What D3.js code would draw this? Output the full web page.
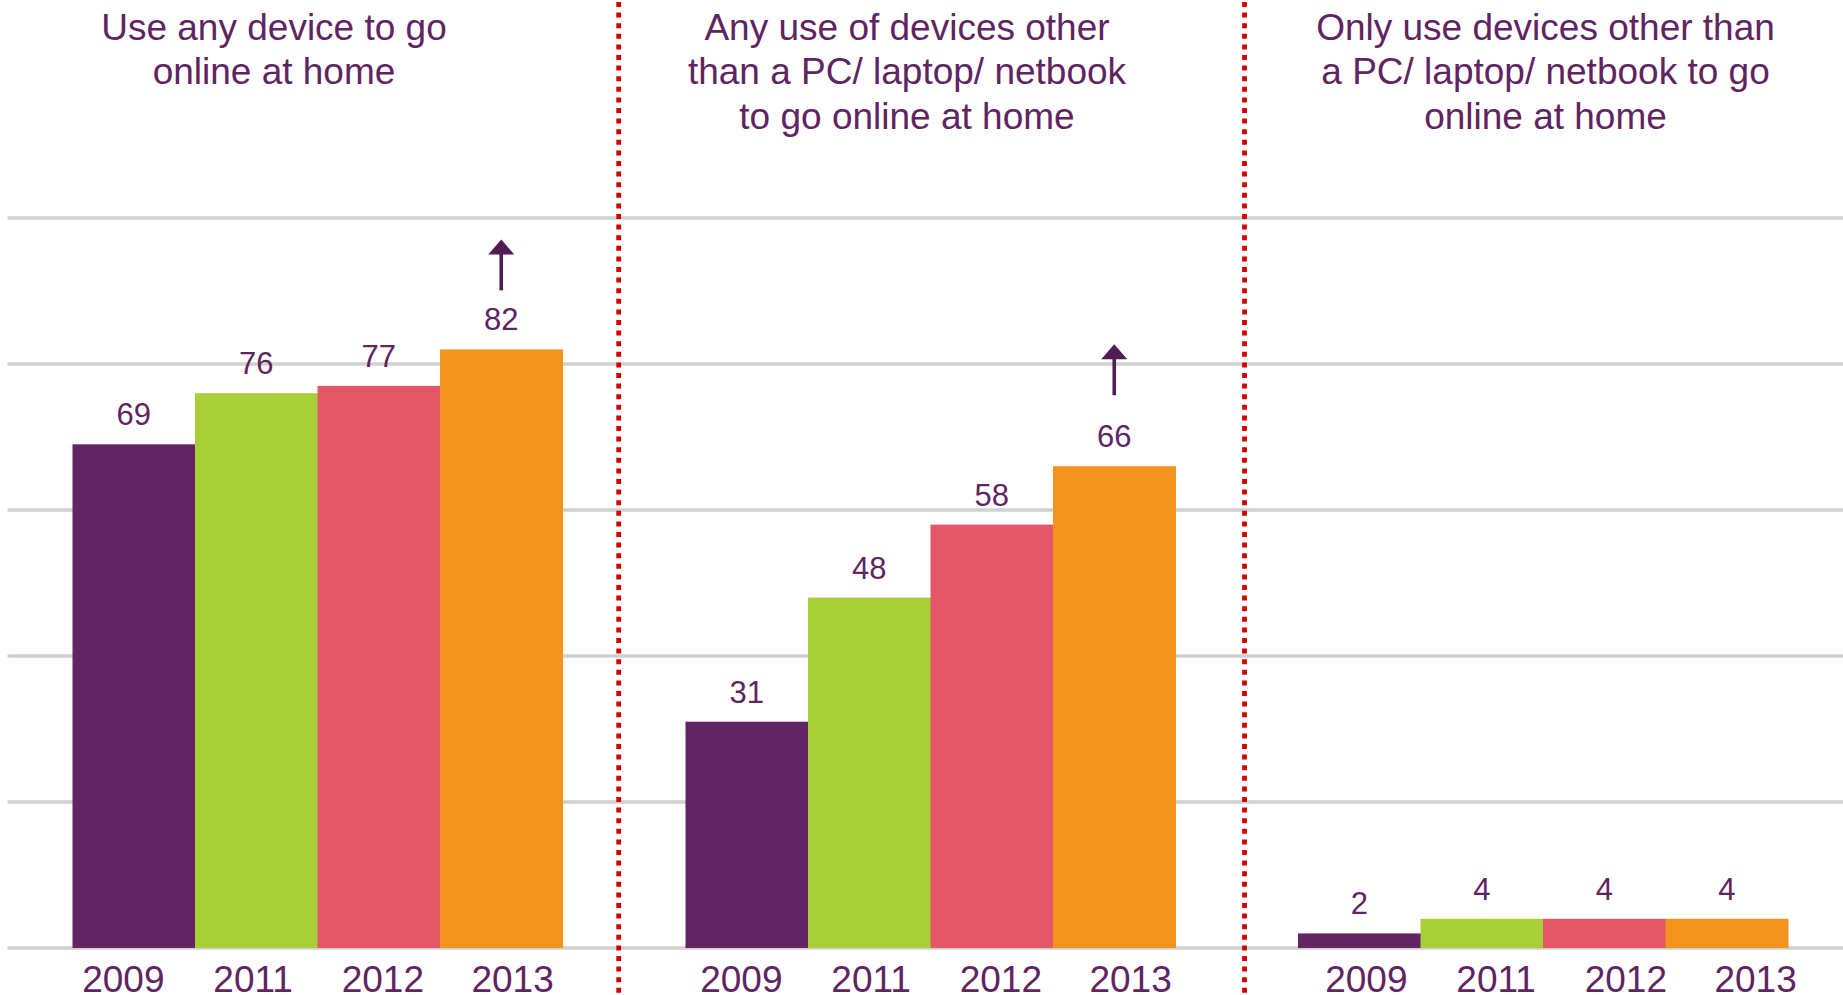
<!DOCTYPE html>
<html>
<head>
<meta charset="utf-8">
<script src="https://cdn.jsdelivr.net/npm/d3@7"></script>
<style>
  html, body { margin: 0; padding: 0; background: #ffffff; overflow: hidden; }
  svg { display: block; font-family: "Liberation Sans", Arial, sans-serif; }
</style>
</head>
<body>
<svg id="chart" width="1843" height="995"></svg>
<script>
// ---- data ----
const years = ["2009", "2011", "2012", "2013"];

const panelTitles = [
  ["Use any device to go", "online at home"],
  ["Any use of devices other", "than a PC/ laptop/ netbook", "to go online at home"],
  ["Only use devices other than", "a PC/ laptop/ netbook to go", "online at home"]
];

const anyDevice = [69, 76, 77, 82];
const anyOtherDevice = [31, 48, 58, 66];
const onlyOtherDevice = [2, 4, 4, 4];

const yTicks = [0, 20, 40, 60, 80, 100];

// panels whose 2013 figure carries an "increase" arrow
const increasePanels = [0, 1];
const increaseYear = "2013";

const yearColors = ["#622463", "#a9cf38", "#e45766", "#f4931e"];

// ---- layout ----
const W = 1843, H = 995;
const textColor = "#5f2462";
const arrowColor = "#521b54";
const panelValues = [anyDevice, anyOtherDevice, onlyOtherDevice];
const barCenters = [317.5, 930.5, 1543];
const barGroupWidth = 490;
const labelCenters = [318, 936, 1561];
const labelGroupWidth = 519;
const titleCenters = [274, 907, 1545.5];
const dividerX = [618.7, 1244.5];
const arrowGap = [110, 122];

const svg = d3.select("#chart");

const y = d3.scaleLinear().domain([0, 100]).range([948, 218]);

// horizontal gridlines
svg.append("g")
  .selectAll("line")
  .data(yTicks)
  .join("line")
  .attr("x1", 9)
  .attr("x2", W + 4)
  .attr("y1", d => y(d))
  .attr("y2", d => y(d))
  .attr("stroke", "#d0d0d0")
  .attr("stroke-width", 3.5)
  .attr("stroke-linecap", "round");

const color = d3.scaleOrdinal().domain(years).range(yearColors);

panelValues.forEach((values, p) => {
  const g = svg.append("g");

  const x = d3.scaleBand()
    .domain(years)
    .range([barCenters[p] - barGroupWidth / 2, barCenters[p] + barGroupWidth / 2])
    .padding(0);

  const xl = d3.scaleBand()
    .domain(years)
    .range([labelCenters[p] - labelGroupWidth / 2, labelCenters[p] + labelGroupWidth / 2])
    .padding(0);

  const rows = years.map((yr, i) => ({ year: yr, value: values[i] }));

  // bars
  g.selectAll("rect")
    .data(rows)
    .join("rect")
    .attr("x", d => x(d.year))
    .attr("width", x.bandwidth() + 0.5)
    .attr("y", d => y(d.value))
    .attr("height", d => y(0) - y(d.value))
    .attr("fill", d => color(d.year));

  // value labels
  g.selectAll("text.value")
    .data(rows)
    .join("text")
    .attr("class", "value")
    .attr("x", d => x(d.year) + x.bandwidth() / 2)
    .attr("y", d => y(d.value) - 19)
    .attr("text-anchor", "middle")
    .attr("font-size", 31)
    .attr("fill", textColor)
    .text(d => d.value);

  // category labels
  g.selectAll("text.year")
    .data(years)
    .join("text")
    .attr("class", "year")
    .attr("x", d => xl(d) + xl.bandwidth() / 2)
    .attr("y", 992)
    .attr("text-anchor", "middle")
    .attr("font-size", 37)
    .attr("fill", textColor)
    .text(d => d);

  // panel title
  const t = g.append("text")
    .attr("text-anchor", "middle")
    .attr("font-size", 37)
    .attr("fill", textColor);
  t.selectAll("tspan")
    .data(panelTitles[p])
    .join("tspan")
    .attr("x", titleCenters[p])
    .attr("y", (d, i) => 40 + i * 44.3)
    .text(d => d);

  // increase arrow
  if (increasePanels.includes(p)) {
    const v = values[years.indexOf(increaseYear)];
    const cx = x(increaseYear) + x.bandwidth() / 2;
    const tip = y(v) - arrowGap[p];
    const a = g.append("g").attr("fill", arrowColor).attr("stroke", arrowColor);
    a.append("line")
      .attr("x1", cx).attr("x2", cx)
      .attr("y1", tip + 12).attr("y2", tip + 51)
      .attr("stroke-width", 3.6);
    a.append("path")
      .attr("stroke", "none")
      .attr("d", d3.line()([[cx, tip], [cx + 13, tip + 15], [cx - 13, tip + 15]]) + "Z");
  }
});

// dotted panel dividers
svg.append("g")
  .selectAll("line")
  .data(dividerX)
  .join("line")
  .attr("x1", d => d)
  .attr("x2", d => d)
  .attr("y1", 2)
  .attr("y2", H)
  .attr("stroke", "#d40000")
  .attr("stroke-width", 4.8)
  .attr("stroke-dasharray", "5,5.6");
</script>
</body>
</html>
